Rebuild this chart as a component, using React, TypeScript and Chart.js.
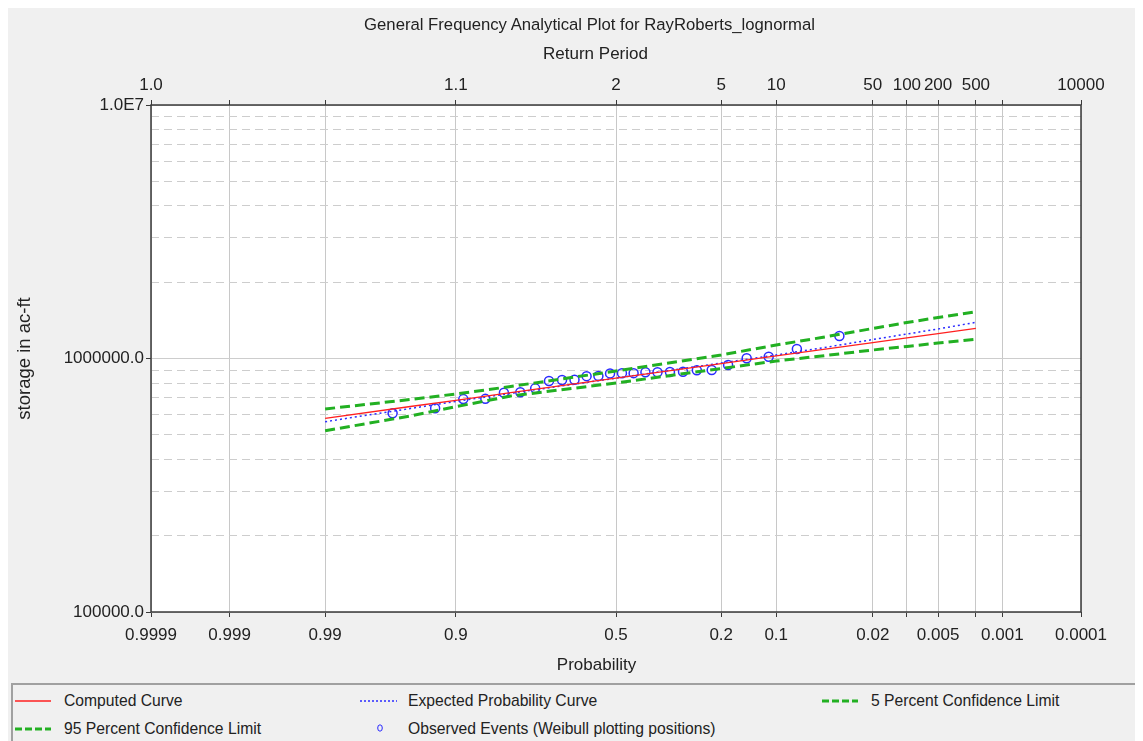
import React, { useEffect, useRef } from 'react';
import { Chart, Scale, registerables } from 'chart.js';

// ---------------- data ----------------
const CURVE_PROBS = [0.99, 0.95, 0.9, 0.8, 0.5, 0.2, 0.1, 0.05, 0.02, 0.01, 0.005, 0.002];
const COMPUTED = [580900, 646600, 684000, 732800, 836700, 954700, 1023900, 1083000, 1155000, 1206000, 1254000, 1315600];
const EXPECTED = [563200, 635100, 676700, 729000, 836700, 960000, 1032300, 1100000, 1188000, 1249000, 1307500, 1389000];
const CONF_5 = [632200, 689000, 724400, 775400, 892800, 1032300, 1130600, 1210000, 1313300, 1386700, 1450500, 1529800];
const CONF_95 = [518900, 593000, 645400, 711200, 800500, 913300, 977500, 1023000, 1080300, 1115200, 1151200, 1190500];

const OBS_PROBS = [0.037, 0.074, 0.111, 0.148, 0.185, 0.222, 0.259, 0.296, 0.333, 0.37, 0.407, 0.444, 0.481,
  0.519, 0.556, 0.593, 0.63, 0.667, 0.704, 0.741, 0.778, 0.815, 0.852, 0.889, 0.926, 0.963];
const OBS_VALUES = [1226500, 1090000, 1016500, 1001800, 942700, 900500, 899000, 887200, 884000, 883000, 882500, 875500, 874300,
  873500, 853000, 852000, 824000, 823000, 815200, 762600, 735500, 732900, 693000, 691500, 636200, 607900];

const X_TICK_PROBS = [0.9999, 0.999, 0.99, 0.9, 0.5, 0.2, 0.1, 0.02, 0.01, 0.005, 0.002, 0.001, 0.0001];
const X_BOTTOM_LABELS = ['0.9999', '0.999', '0.99', '0.9', '0.5', '0.2', '0.1', '0.02', '', '0.005', '', '0.001', '0.0001'];
const X_TOP_LABELS = ['1.0', '', '', '1.1', '2', '5', '10', '50', '100', '200', '500', '', '10000'];

const Y_GRID_VALUES = [100000, 200000, 300000, 400000, 500000, 600000, 700000, 800000, 900000,
  1000000, 2000000, 3000000, 4000000, 5000000, 6000000, 7000000, 8000000, 9000000, 10000000];
const Y_LABEL_VALUES = [100000, 1000000, 10000000];
const Y_LABELS = ['100000.0', '1000000.0', '1.0E7'];

const TITLE = 'General Frequency Analytical Plot for RayRoberts_lognormal';
const TOP_AXIS_TITLE = 'Return Period';
const BOTTOM_AXIS_TITLE = 'Probability';
const Y_AXIS_TITLE = 'storage in ac-ft';
const FONT = '"Liberation Sans", Arial, sans-serif';
const TEXT = '#222222';

// ---------------- normal probability scale ----------------
function invNorm(p: number): number {
  const a = [-3.969683028665376e1, 2.209460984245205e2, -2.759285104469687e2, 1.38357751867269e2, -3.066479806614716e1, 2.506628277459239];
  const b = [-5.447609879822406e1, 1.615858368580409e2, -1.556989798598866e2, 6.680131188771972e1, -1.328068155288572e1];
  const c = [-7.784894002430293e-3, -3.223964580411365e-1, -2.400758277161838, -2.549732539343734, 4.374664141464968, 2.938163982698783];
  const d = [7.784695709041462e-3, 3.224671290700398e-1, 2.445134137142996, 3.754408661907416];
  const pl = 0.02425;
  let q: number, r: number;
  if (p < pl) {
    q = Math.sqrt(-2 * Math.log(p));
    return (((((c[0] * q + c[1]) * q + c[2]) * q + c[3]) * q + c[4]) * q + c[5]) / ((((d[0] * q + d[1]) * q + d[2]) * q + d[3]) * q + 1);
  }
  if (p <= 1 - pl) {
    q = p - 0.5; r = q * q;
    return (((((a[0] * r + a[1]) * r + a[2]) * r + a[3]) * r + a[4]) * r + a[5]) * q / (((((b[0] * r + b[1]) * r + b[2]) * r + b[3]) * r + b[4]) * r + 1);
  }
  q = Math.sqrt(-2 * Math.log(1 - p));
  return -(((((c[0] * q + c[1]) * q + c[2]) * q + c[3]) * q + c[4]) * q + c[5]) / ((((d[0] * q + d[1]) * q + d[2]) * q + d[3]) * q + 1);
}
function normCdf(z: number): number {
  const t = 1 / (1 + 0.2316419 * Math.abs(z));
  const y = 0.3989423 * Math.exp(-z * z / 2) * t * (0.3193815 + t * (-0.3565638 + t * (1.781478 + t * (-1.821256 + t * 1.330274))));
  return z > 0 ? 1 - y : y;
}

class ProbabilityScale extends Scale {
  static id = 'probability';
  static defaults = {};
  zStart = -3.719;
  zEnd = 3.719;
  determineDataLimits() {
    const o: any = this.options;
    this.min = Math.min(o.leftProb, o.rightProb);
    this.max = Math.max(o.leftProb, o.rightProb);
    this.zStart = invNorm(1 - o.leftProb);
    this.zEnd = invNorm(1 - o.rightProb);
  }
  buildTicks() { return []; }
  getLabelForValue(v: number) { return String(v); }
  getPixelForValue(v: number) {
    const z = invNorm(1 - v);
    return this.getPixelForDecimal((z - this.zStart) / (this.zEnd - this.zStart));
  }
  getValueForPixel(px: number) {
    const z = this.zStart + this.getDecimalForPixel(px) * (this.zEnd - this.zStart);
    return 1 - normCdf(z);
  }
}

Chart.register(...registerables, ProbabilityScale as any);

const framePlugin = {
  id: 'frame',
  beforeDraw(chart: any) {
    const { ctx, chartArea: a } = chart;
    ctx.save();
    ctx.fillStyle = '#ffffff';
    ctx.fillRect(a.left, a.top, a.right - a.left, a.bottom - a.top);
    ctx.restore();
  },
  beforeDatasetsDraw(chart: any) {
    const { ctx, chartArea: a } = chart;
    ctx.save();
    ctx.strokeStyle = '#3a3a3a';
    ctx.lineWidth = 1.5;
    ctx.strokeRect(a.left, a.top, a.right - a.left, a.bottom - a.top);
    ctx.restore();
  },
};

const toPoints = (xs: number[], ys: number[]) => xs.map((x, i) => ({ x, y: ys[i] }));

const GREEN = '#22b022';
const BLUE = '#2a2aff';
const RED = '#ff2020';

function LegendItem(props: { left: number; top: number; sample: React.ReactNode; text: string; gap?: number }) {
  return (
    <div style={{ position: 'absolute', left: props.left, top: props.top, height: 18, display: 'flex', alignItems: 'center' }}>
      {props.sample}
      <span style={{ marginLeft: props.gap ?? 13, fontSize: 15.7, color: TEXT, fontFamily: FONT, whiteSpace: 'nowrap', lineHeight: '18px' }}>{props.text}</span>
    </div>
  );
}

function CenteredText(props: { cx: number; cy: number; size: number; text: string }) {
  return (
    <div style={{ position: 'absolute', left: props.cx - 400, top: props.cy - 11, width: 800, height: 22, lineHeight: '22px', textAlign: 'center', fontSize: props.size, color: TEXT, fontFamily: FONT, whiteSpace: 'nowrap' }}>
      {props.text}
    </div>
  );
}

export default function App() {
  const ref = useRef<HTMLCanvasElement>(null);
  useEffect(() => {
    const probAxisCommon = {
      type: 'probability',
      leftProb: 0.9999,
      rightProb: 0.0001,
      afterBuildTicks: (s: any) => { s.ticks = X_TICK_PROBS.map((v) => ({ value: v })); },
      border: { display: false },
    };
    const chart = new Chart(ref.current as HTMLCanvasElement, {
      type: 'scatter',
      data: {
        datasets: [
          { label: 'Computed Curve', data: toPoints(CURVE_PROBS, COMPUTED), showLine: true, borderColor: RED, borderWidth: 1.3, pointRadius: 0, fill: false },
          { label: 'Expected Probability Curve', data: toPoints(CURVE_PROBS, EXPECTED), showLine: true, borderColor: BLUE, borderWidth: 1.5, borderDash: [2, 3], pointRadius: 0, fill: false },
          { label: '5 Percent Confidence Limit', data: toPoints(CURVE_PROBS, CONF_5), showLine: true, borderColor: GREEN, borderWidth: 3, borderDash: [10, 5], pointRadius: 0, fill: false },
          { label: '95 Percent Confidence Limit', data: toPoints(CURVE_PROBS, CONF_95), showLine: true, borderColor: GREEN, borderWidth: 3, borderDash: [10, 5], pointRadius: 0, fill: false },
          { label: 'Observed Events (Weibull plotting positions)', data: toPoints(OBS_PROBS, OBS_VALUES), showLine: false, borderColor: BLUE, backgroundColor: 'rgba(0,0,0,0)', borderWidth: 1.5, pointRadius: 4.5, pointStyle: 'circle' },
        ],
      } as any,
      options: {
        responsive: false,
        devicePixelRatio: 1,
        animation: false,
        events: [],
        layout: { padding: { left: 0, right: 62, top: 30, bottom: 0 } },
        plugins: {
          legend: { display: false },
          tooltip: { enabled: false },
          title: { display: false },
        },
        scales: {
          x: {
            ...probAxisCommon,
            position: 'bottom',
            ticks: { autoSkip: false, maxRotation: 0, minRotation: 0, color: TEXT, padding: 8, font: { family: FONT, size: 17 }, callback: (_v: any, i: number) => X_BOTTOM_LABELS[i] },
            grid: { color: '#c8c8c8', lineWidth: 1, tickColor: '#3a3a3a', tickLength: 5 },
            title: { display: false },
            afterFit: (s: any) => { s.height = 71; },
          },
          x2: {
            ...probAxisCommon,
            position: 'top',
            ticks: { autoSkip: false, maxRotation: 0, minRotation: 0, color: TEXT, padding: 4, font: { family: FONT, size: 17 }, callback: (_v: any, i: number) => X_TOP_LABELS[i] },
            grid: { drawOnChartArea: false, tickColor: '#3a3a3a', tickLength: 5 },
            title: { display: false },
            afterFit: (s: any) => { s.height = 67; },
          },
          y: {
            type: 'logarithmic',
            min: 100000,
            max: 10000000,
            afterBuildTicks: (s: any) => { s.ticks = Y_GRID_VALUES.map((v) => ({ value: v })); },
            ticks: {
              autoSkip: false, color: TEXT, padding: 2, font: { family: FONT, size: 17 },
              callback: (v: any) => { const i = Y_LABEL_VALUES.indexOf(Number(v)); return i >= 0 ? Y_LABELS[i] : ''; },
            },
            grid: {
              color: '#cdcdcd', lineWidth: 1, tickLength: 5,
              tickColor: (c: any) => (c.tick && Y_LABEL_VALUES.indexOf(c.tick.value) >= 0 ? '#3a3a3a' : 'rgba(0,0,0,0)'),
            },
            border: {
              display: false,
              dash: (c: any) => (c.tick && Y_LABEL_VALUES.indexOf(c.tick.value) < 0 ? [8, 5] : []),
            },
            title: { display: true, text: Y_AXIS_TITLE, color: TEXT, font: { family: FONT, size: 18.5 }, padding: { top: 6, bottom: 0 } },
            afterFit: (s: any) => { s.width = 143; },
          },
        },
      } as any,
      plugins: [framePlugin],
    });
    return () => chart.destroy();
  }, []);

  const line = (color: string, width: number, dash: string | undefined, w: number) => (
    <svg width={w} height={10} style={{ display: 'block' }}>
      <line x1={0} y1={5} x2={w} y2={5} stroke={color} strokeWidth={width} strokeDasharray={dash} />
    </svg>
  );

  return (
    <div style={{ position: 'relative', width: 1135, height: 733, background: '#f0f0f0', overflow: 'hidden', fontFamily: FONT }}>
      <canvas ref={ref} width={1135} height={675} style={{ display: 'block', width: 1135, height: 675 }} />
      <CenteredText cx={581.5} cy={17} size={16.7} text={TITLE} />
      <CenteredText cx={587.5} cy={46} size={17} text={TOP_AXIS_TITLE} />
      <CenteredText cx={588.5} cy={657} size={17} text={BOTTOM_AXIS_TITLE} />
      <div style={{ position: 'absolute', left: 3, top: 675, width: 1140, height: 70, borderTop: '2px solid #a0a0a0', borderLeft: '2px solid #a0a0a0', boxSizing: 'border-box' }}>
        <LegendItem left={2} top={7} sample={line(RED, 1.3, undefined, 36)} text="Computed Curve" />
        <LegendItem left={347} top={7} gap={11} sample={line(BLUE, 1.3, '2 2', 37)} text="Expected Probability Curve" />
        <LegendItem left={809} top={7} sample={line(GREEN, 3, '7 3', 36)} text="5 Percent Confidence Limit" />
        <LegendItem left={2} top={35} sample={line(GREEN, 3, '7 3', 36)} text="95 Percent Confidence Limit" />
        <LegendItem left={362} top={35} gap={9} sample={
          <svg width={24} height={12} style={{ display: 'block' }}>
            <ellipse cx={5} cy={5} rx={2.3} ry={3.2} fill="none" stroke={BLUE} strokeWidth={1} />
          </svg>
        } text="Observed Events (Weibull plotting positions)" />
      </div>
    </div>
  );
}
